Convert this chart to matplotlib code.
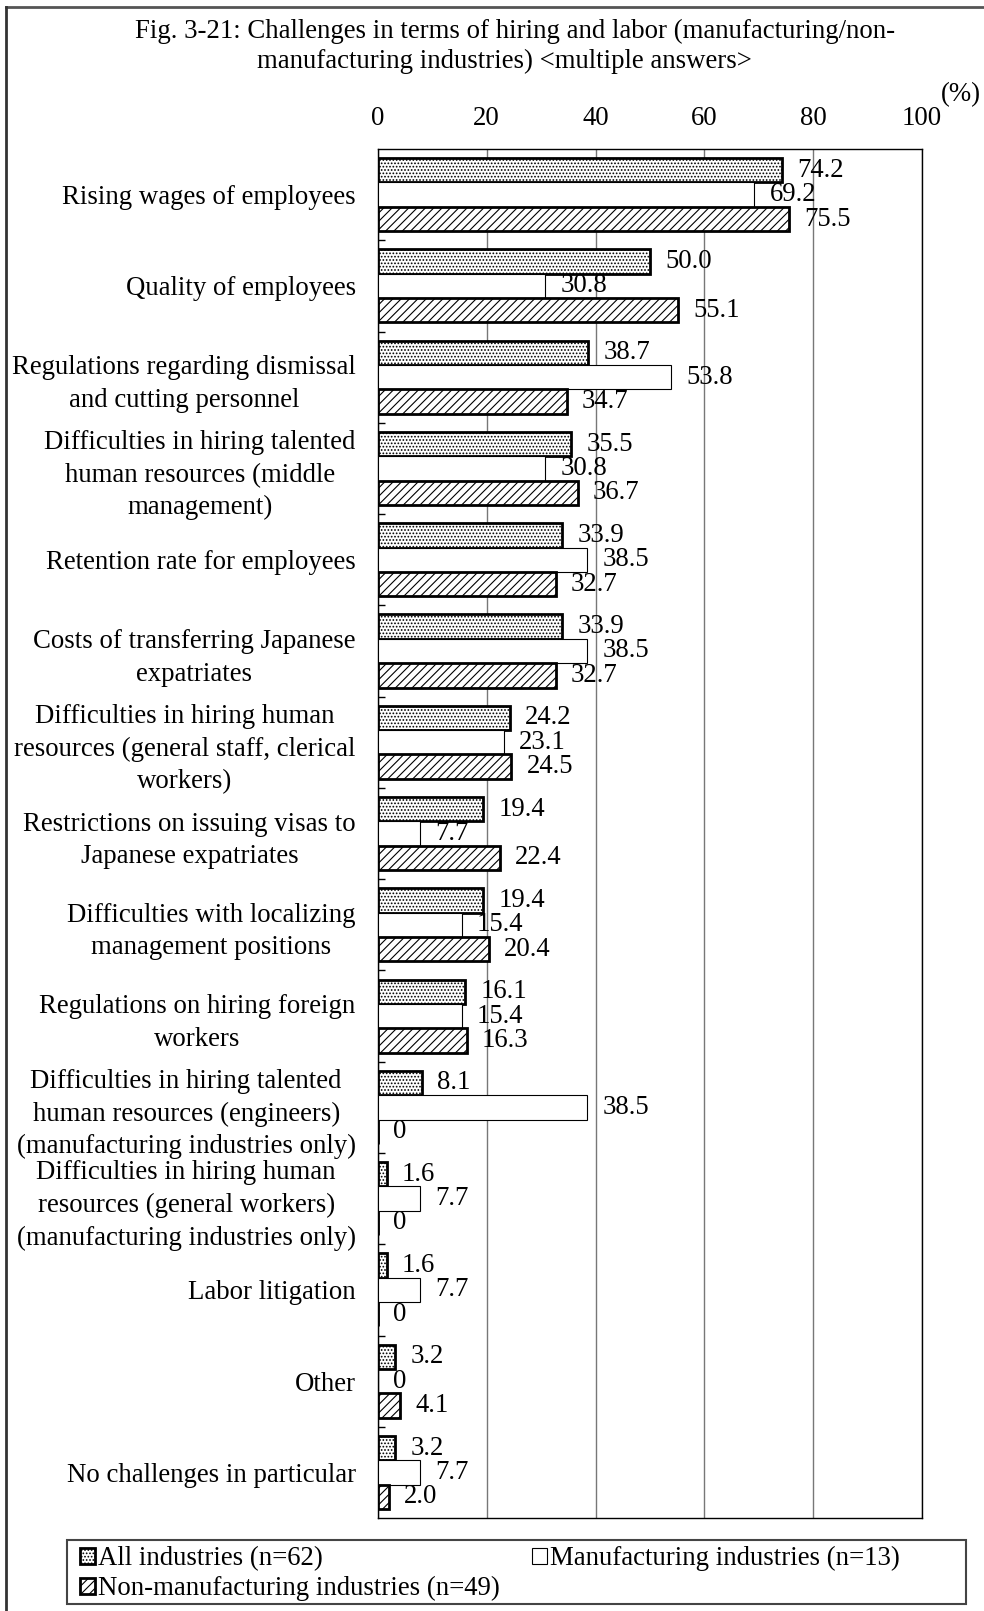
import numpy as np
import matplotlib as mpl
mpl.use('Agg')
from matplotlib import pyplot as plt
from matplotlib.patches import Rectangle
from matplotlib.lines import Line2D

plt.rcParams['font.family'] = ['Liberation Serif', 'DejaVu Serif']
plt.rcParams['hatch.linewidth'] = 0.8

### data
categories = [
    'Rising wages of employees',
    'Quality of employees',
    'Regulations regarding dismissal\nand cutting personnel',
    'Difficulties in hiring talented\nhuman resources (middle\nmanagement)',
    'Retention rate for employees',
    'Costs of transferring Japanese\nexpatriates',
    'Difficulties in hiring human\nresources (general staff, clerical\nworkers)',
    'Restrictions on issuing visas to\nJapanese expatriates',
    'Difficulties with localizing\nmanagement positions',
    'Regulations on hiring foreign\nworkers',
    'Difficulties in hiring talented\nhuman resources (engineers)\n(manufacturing industries only)',
    'Difficulties in hiring human\nresources (general workers)\n(manufacturing industries only)',
    'Labor litigation',
    'Other',
    'No challenges in particular',
]
all_ind = [74.2, 50.0, 38.7, 35.5, 33.9, 33.9, 24.2, 19.4, 19.4, 16.1, 8.1, 1.6, 1.6, 3.2, 3.2]
manuf = [69.2, 30.8, 53.8, 30.8, 38.5, 38.5, 23.1, 7.7, 15.4, 15.4, 38.5, 7.7, 7.7, 0, 7.7]
non_manuf = [75.5, 55.1, 34.7, 36.7, 32.7, 32.7, 24.5, 22.4, 20.4, 16.3, 0, 0, 0, 4.1, 2.0]
series_names = ['All industries (n=62)', 'Manufacturing industries (n=13)',
                'Non-manufacturing industries (n=49)']
x_ticks = [0, 20, 40, 60, 80, 100]

title_l1 = 'Fig. 3-21: Challenges in terms of hiring and labor (manufacturing/non-'
title_l2 = 'manufacturing industries) <multiple answers>'

FS = 19.3

fig = plt.figure(figsize=(9.84, 16.11), dpi=100)
ax = fig.add_axes([0.384, 0.0577, 0.553, 0.8498])

n = len(categories)
y = np.arange(n)
h = 0.267

styles = [
    dict(facecolor='white', edgecolor='black', hatch='.....', linewidth=2.0),
    dict(facecolor='white', edgecolor='black', linewidth=0.8),
    dict(facecolor='white', edgecolor='black', hatch='////', linewidth=2.0),
]
handles = []
for k, (vals, st) in enumerate(zip([all_ind, manuf, non_manuf], styles)):
    bars = ax.barh(y + (k - 1) * h, vals, height=h, zorder=3,
                   label=series_names[k], **st)
    handles.append(bars)
    for yy, v in zip(y + (k - 1) * h, vals):
        txt = '0' if v == 0 else '%.1f' % v
        ax.annotate(txt, (v, yy), xytext=(11, 0), textcoords='offset points',
                    ha='left', va='center', fontsize=FS, zorder=4)

ax.set_xlim(0, 100)
ax.set_ylim(n - 0.5, -0.5)
ax.xaxis.tick_top()
ax.set_xticks(x_ticks)
ax.set_xticklabels([str(t) for t in x_ticks], fontsize=FS)
ax.tick_params(axis='x', length=0, pad=13)
ax.grid(axis='x', color='#777777', linewidth=1.0, zorder=0)
ax.set_axisbelow(True)

ax.set_yticks(y)
ax.set_yticklabels(categories, fontsize=FS)
for lbl in ax.get_yticklabels():
    lbl.set_multialignment('center')
    lbl.set_linespacing(1.4)
ax.tick_params(axis='y', which='major', length=0, pad=16)
ax.set_yticks(np.arange(n - 1) + 0.5, minor=True)
ax.tick_params(axis='y', which='minor', direction='in', length=5, width=1)

for sp in ax.spines.values():
    sp.set_linewidth(1.0)
    sp.set_color('black')

fig.text(515 / 984, 1 - 31 / 1611, title_l1, ha='center', va='center', fontsize=FS)
fig.text(504 / 984, 1 - 61 / 1611, title_l2, ha='center', va='center', fontsize=FS)
fig.text(981 / 984, 1 - 95 / 1611, '(%)', ha='right', va='center', fontsize=FS)

### legend - row-wise order
leg = fig.legend([handles[0], handles[2], handles[1]],
                 [series_names[0], series_names[2], series_names[1]],
                 ncol=2, loc='upper left', bbox_to_anchor=(80 / 984, 1 - 1546 / 1611),
                 frameon=False, fontsize=FS, handlelength=0.56, handleheight=0.56,
                 handletextpad=0.12, columnspacing=1.2, labelspacing=0.19,
                 borderpad=0, borderaxespad=0)
fig.add_artist(Rectangle((67 / 984, 1 - 1604 / 1611), 899 / 984, 64 / 1611,
                         transform=fig.transFigure, fill=False,
                         edgecolor='#444444', linewidth=1.5))

### outer frame: only top and left edges are visible in the original
fig.add_artist(Line2D([6 / 984, 1], [1 - 7 / 1611, 1 - 7 / 1611],
                      transform=fig.transFigure, color='#555555', linewidth=2.0))
fig.add_artist(Line2D([6 / 984, 6 / 984], [0, 1 - 7 / 1611],
                      transform=fig.transFigure, color='#333333', linewidth=2.0))

fig.savefig('out.png', dpi=100)
plt.close()
